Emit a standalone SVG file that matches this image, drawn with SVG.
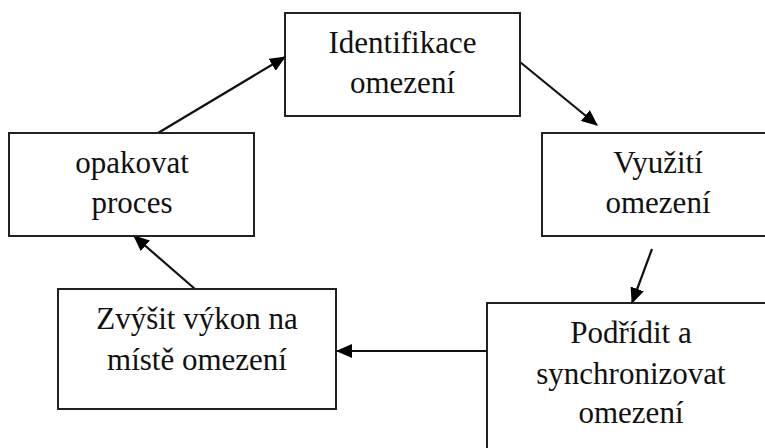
<svg xmlns="http://www.w3.org/2000/svg" width="765" height="448" viewBox="0 0 765 448">
<defs>
<style>
.box{fill:#fff;stroke:#222;stroke-width:2}
.t{font-size:31px;fill:#111;text-anchor:middle}
.c{stroke:#111;stroke-width:2.2;fill:none;marker-end:url(#ah)}
</style>
<marker id="ah" markerUnits="userSpaceOnUse" markerWidth="16" markerHeight="14" viewBox="0 0 16 14" refX="15" refY="7" orient="auto">
<path d="M0,0 L16,7 L0,14 Z" fill="#000"/>
</marker>
</defs>
<rect width="765" height="448" fill="#fff"/>
<g id="connectors">
<line class="c" x1="158" y1="133" x2="285" y2="57"/>
<line class="c" x1="520" y1="62" x2="597" y2="125"/>
<line class="c" x1="652" y1="249" x2="632" y2="303"/>
<line class="c" x1="487" y1="351" x2="337" y2="351"/>
<line class="c" x1="195" y1="289" x2="134" y2="236"/>
</g>
<g font-family="'Liberation Serif', Tinos, 'Times New Roman', 'DejaVu Serif', serif">
<g id="n1">
<rect class="box" x="285" y="13" width="235" height="103"/>
<text class="t" x="402.5" y="53">Identifikace</text>
<text class="t" x="402.5" y="93">omezení</text>
</g>
<g id="n2">
<rect class="box" x="542" y="133" width="233" height="103"/>
<text class="t" x="658" y="173">Využití</text>
<text class="t" x="658" y="213">omezení</text>
</g>
<g id="n3">
<rect class="box" x="487" y="303" width="288" height="160"/>
<text class="t" x="631" y="343">Podřídit a</text>
<text class="t" x="631" y="384">synchronizovat</text>
<text class="t" x="631" y="423">omezení</text>
</g>
<g id="n4">
<rect class="box" x="58" y="289" width="278" height="120"/>
<text class="t" x="197" y="329">Zvýšit výkon na</text>
<text class="t" x="197" y="370">místě omezení</text>
</g>
<g id="n5">
<rect class="box" x="9" y="133" width="245" height="103"/>
<text class="t" x="132" y="173">opakovat</text>
<text class="t" x="132" y="213">proces</text>
</g>
</g>
</svg>
